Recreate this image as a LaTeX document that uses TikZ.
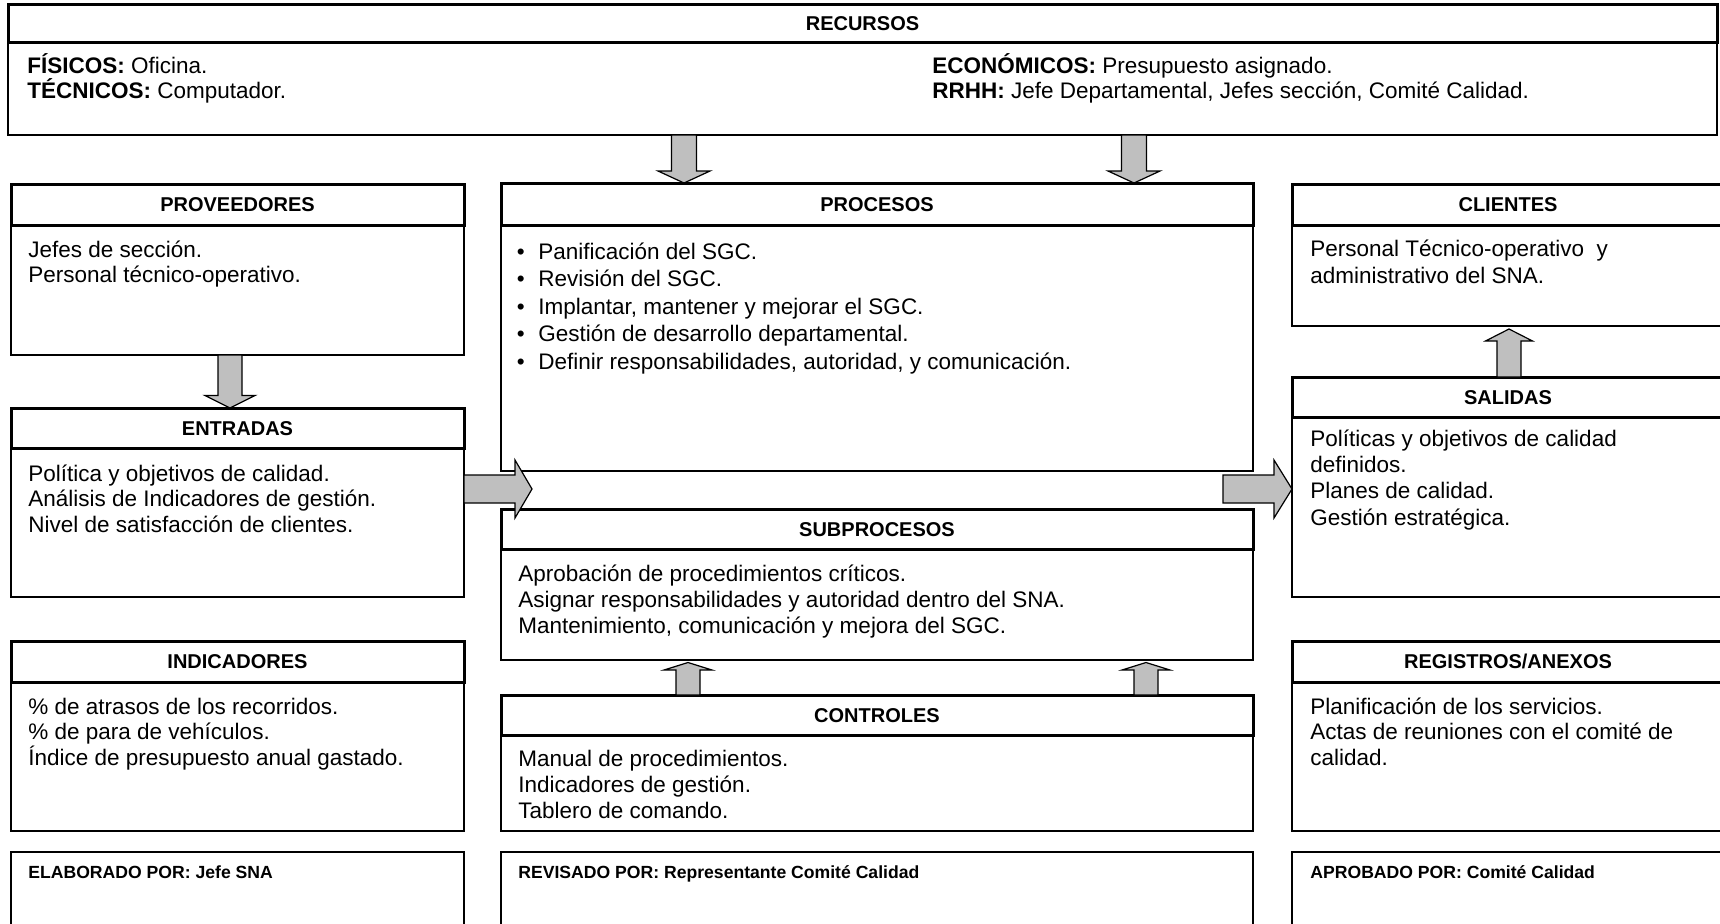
\documentclass[tikz,border=0pt]{standalone}
\usepackage{fontspec}
\setmainfont{Liberation Sans}
\usetikzlibrary{calc,fit}

% type sizes
\newcommand\bodyfont{\fontsize{11.25pt}{13pt}\selectfont}
\newcommand\headfont{\fontsize{10pt}{12pt}\selectfont\bfseries}
\newcommand\footfont{\fontsize{8.8pt}{10pt}\selectfont\bfseries}
% stacked lines with a fixed baseline pitch; the box baseline is the first line
\newcommand\linesat[2]{\vtop{\baselineskip=#1\lineskiplimit=-1000pt\lineskip=0pt\halign{##\hfil\cr#2\crcr}}}
\newcommand\bul{\makebox[10.75pt][l]{•}}

% vertical block arrow: tail, tip, half shaft, half head, signed head length
\newcommand\vblock[5]{%
  \draw[blockarr] ($(#1)+(-#3,0)$) -- ($(#2)+(-#3,#5)$) -- ($(#2)+(-#4,#5)$) -- (#2)
    -- ($(#2)+(#4,#5)$) -- ($(#2)+(#3,#5)$) -- ($(#1)+(#3,0)$) -- cycle;}
% right-pointing block arrow: tail, tip, half shaft, half head, head length
\newcommand\hblock[5]{%
  \draw[blockarr] ($(#1)+(0,-#3)$) -- ($(#2)+(-#5,-#3)$) -- ($(#2)+(-#5,-#4)$) -- (#2)
    -- ($(#2)+(-#5,#4)$) -- ($(#2)+(-#5,#3)$) -- ($(#1)+(0,#3)$) -- cycle;}

\tikzset{
  bodybox/.style={draw, line width=0.65pt, fill=white, inner sep=0pt, outer sep=0pt},
  headbox/.style={draw, line width=1.5pt, fill=white, inner sep=0pt, outer sep=0pt},
  headlabel/.style={inner sep=0pt, anchor=base, font=\headfont},
  blockarr/.style={draw, line width=0.6pt, fill=black!25, line join=miter},
  txt/.style={inner sep=0pt, anchor=base west, font=\bodyfont},
  foottxt/.style={inner sep=0pt, anchor=base west, font=\footfont},
}

\begin{document}
\begin{tikzpicture}[x=0.5pt,y=-0.5pt]
\useasboundingbox (0,0) rectangle (1720,923);

% ---------- resources ----------
\node[bodybox, fit={(8,42) (1717,135)}] (recb) {};
\node[headbox, fit={(8,4) (1717,42)}] (rech) {};
\node[headlabel] (rechl) at ($(rech.center)+(0,7.2)$) {RECURSOS};
\node[txt] (rect1) at ($(recb.north west)+(19,31)$)
  {\linesat{12.5pt}{\textbf{FÍSICOS:} Oficina.\cr\textbf{TÉCNICOS:} Computador.}};
\node[txt] (rect2) at ($(recb.north west)+(924,31)$)
  {\linesat{12.5pt}{\textbf{ECONÓMICOS:} Presupuesto asignado.\cr
   \textbf{RRHH:} Jefe Departamental, Jefes sección, Comité Calidad.}};

% ---------- left column ----------
\node[bodybox, fit={(11,225) (464,355)}] (provb) {};
\node[headbox, fit={(11,184) (464,225)}] (provh) {};
\node[headlabel] (provhl) at ($(provh.center)+(0,7.2)$) {PROVEEDORES};
\node[txt] (provt) at ($(provb.north west)+(17,32)$)
  {\linesat{12.85pt}{Jefes de sección.\cr Personal técnico-operativo.}};

\node[bodybox, fit={(11,448) (464,597)}] (entrb) {};
\node[headbox, fit={(11,408) (464,448)}] (entrh) {};
\node[headlabel] (entrhl) at ($(entrh.center)+(0,7.2)$) {ENTRADAS};
\node[txt] (entrt) at ($(entrb.north west)+(17,33)$)
  {\linesat{12.75pt}{Política y objetivos de calidad.\cr
   Análisis de Indicadores de gestión.\cr Nivel de satisfacción de clientes.}};

\node[bodybox, fit={(11,682) (464,831)}] (indb) {};
\node[headbox, fit={(11,641) (464,682)}] (indh) {};
\node[headlabel] (indhl) at ($(indh.center)+(0,7.2)$) {INDICADORES};
\node[txt] (indt) at ($(indb.north west)+(17,32)$)
  {\linesat{12.85pt}{\% de atrasos de los recorridos.\cr
   \% de para de vehículos.\cr Índice de presupuesto anual gastado.}};

\node[bodybox, fit={(11,852) (464,935)}] (elab) {};
\node[foottxt] (elabt) at ($(elab.north west)+(17,26)$) {ELABORADO POR: Jefe SNA};

% ---------- middle column ----------
\node[bodybox, fit={(501,225) (1253,471)}] (procb) {};
\node[headbox, fit={(501,183) (1253,225)}] (proch) {};
\node[headlabel] (prochl) at ($(proch.center)+(0,7.2)$) {PROCESOS};
\node[txt] (proct) at ($(procb.north west)+(15.5,34)$)
  {\linesat{13.8pt}{\bul Panificación del SGC.\cr
   \bul Revisión del SGC.\cr
   \bul Implantar, mantener y mejorar el SGC.\cr
   \bul Gestión de desarrollo departamental.\cr
   \bul Definir responsabilidades, autoridad, y comunicación.}};

\node[bodybox, fit={(501,549) (1253,660)}] (subpb) {};
\node[headbox, fit={(501,509) (1253,549)}] (subph) {};
\node[headlabel] (subphl) at ($(subph.center)+(0,7.2)$) {SUBPROCESOS};
\node[txt] (subpt) at ($(subpb.north west)+(17,32)$)
  {\linesat{13pt}{Aprobación de procedimientos críticos.\cr
   Asignar responsabilidades y autoridad dentro del SNA.\cr
   Mantenimiento, comunicación y mejora del SGC.}};

\node[bodybox, fit={(501,735) (1253,831)}] (ctrlb) {};
\node[headbox, fit={(501,695) (1253,735)}] (ctrlh) {};
\node[headlabel] (ctrlhl) at ($(ctrlh.center)+(0,7.2)$) {CONTROLES};
\node[txt] (ctrlt) at ($(ctrlb.north west)+(17,31)$)
  {\linesat{13.1pt}{Manual de procedimientos.\cr
   Indicadores de gestión.\cr Tablero de comando.}};

\node[bodybox, fit={(501,852) (1253,935)}] (revi) {};
\node[foottxt] (revit) at ($(revi.north west)+(17,26)$) {REVISADO POR: Representante Comité Calidad};

% ---------- right column ----------
\node[bodybox, fit={(1292,225) (1724,326)}] (clib) {};
\node[headbox, fit={(1292,184) (1724,225)}] (clih) {};
\node[headlabel] (clihl) at ($(clih.center)+(0,7.2)$) {CLIENTES};
\node[txt] (clit) at ($(clib.north west)+(18,31)$)
  {\linesat{13.5pt}{Personal Técnico-operativo\ \ y\cr administrativo del SNA.}};

\node[bodybox, fit={(1292,417) (1724,597)}] (salb) {};
\node[headbox, fit={(1292,377) (1724,417)}] (salh) {};
\node[headlabel] (salhl) at ($(salh.center)+(0,7.2)$) {SALIDAS};
\node[txt] (salt) at ($(salb.north west)+(18,29)$)
  {\linesat{13.2pt}{Políticas y objetivos de calidad\cr definidos.\cr
   Planes de calidad.\cr Gestión estratégica.}};

\node[bodybox, fit={(1292,682) (1724,831)}] (regb) {};
\node[headbox, fit={(1292,641) (1724,682)}] (regh) {};
\node[headlabel] (reghl) at ($(regh.center)+(0,7.2)$) {REGISTROS/ANEXOS};
\node[txt] (regt) at ($(regb.north west)+(18,32)$)
  {\linesat{12.85pt}{Planificación de los servicios.\cr
   Actas de reuniones con el comité de\cr calidad.}};

\node[bodybox, fit={(1292,852) (1724,935)}] (apro) {};
\node[foottxt] (aprot) at ($(apro.north west)+(18,26)$) {APROBADO POR: Comité Calidad};

% ---------- connectors ----------
\coordinate (ra) at ($(recb.south west)+(676,0)$);
\coordinate (rb) at ($(recb.south west)+(1126,0)$);
\coordinate (pa) at (ra |- proch.north);
\coordinate (pb) at (rb |- proch.north);
\vblock{ra}{pa}{12.5}{26}{-12}
\vblock{rb}{pb}{12.5}{26}{-12}

\coordinate (va) at ($(provb.south west)+(219,0)$);
\coordinate (ea) at (va |- entrh.north);
\vblock{va}{ea}{12}{25}{-12.5}

\coordinate (sa) at ($(salh.north west)+(217,0)$);
\coordinate (ca) at ($(sa |- clib.south)+(0,3)$);
\vblock{sa}{ca}{12}{23.5}{12}

\coordinate (ka) at ($(ctrlh.north west)+(187,0)$);
\coordinate (kb) at ($(ctrlh.north west)+(645,0)$);
\coordinate (ua) at ($(ka |- subpb.south)+(0,2.5)$);
\coordinate (ub) at ($(kb |- subpb.south)+(0,2.5)$);
\vblock{ka}{ua}{12}{24}{7.5}
\vblock{kb}{ub}{12}{24}{7.5}

\coordinate (ein) at ($(entrb.north east)+(0,41)$);
\coordinate (eout) at ($(ein)+(68,0)$);
\hblock{ein}{eout}{14}{29}{17}

\coordinate (sin) at ($(salb.north west)+(0,72)$);
\coordinate (sout) at ($(sin)+(-69,0)$);
\hblock{sout}{sin}{14}{29}{18}
\end{tikzpicture}
\end{document}
